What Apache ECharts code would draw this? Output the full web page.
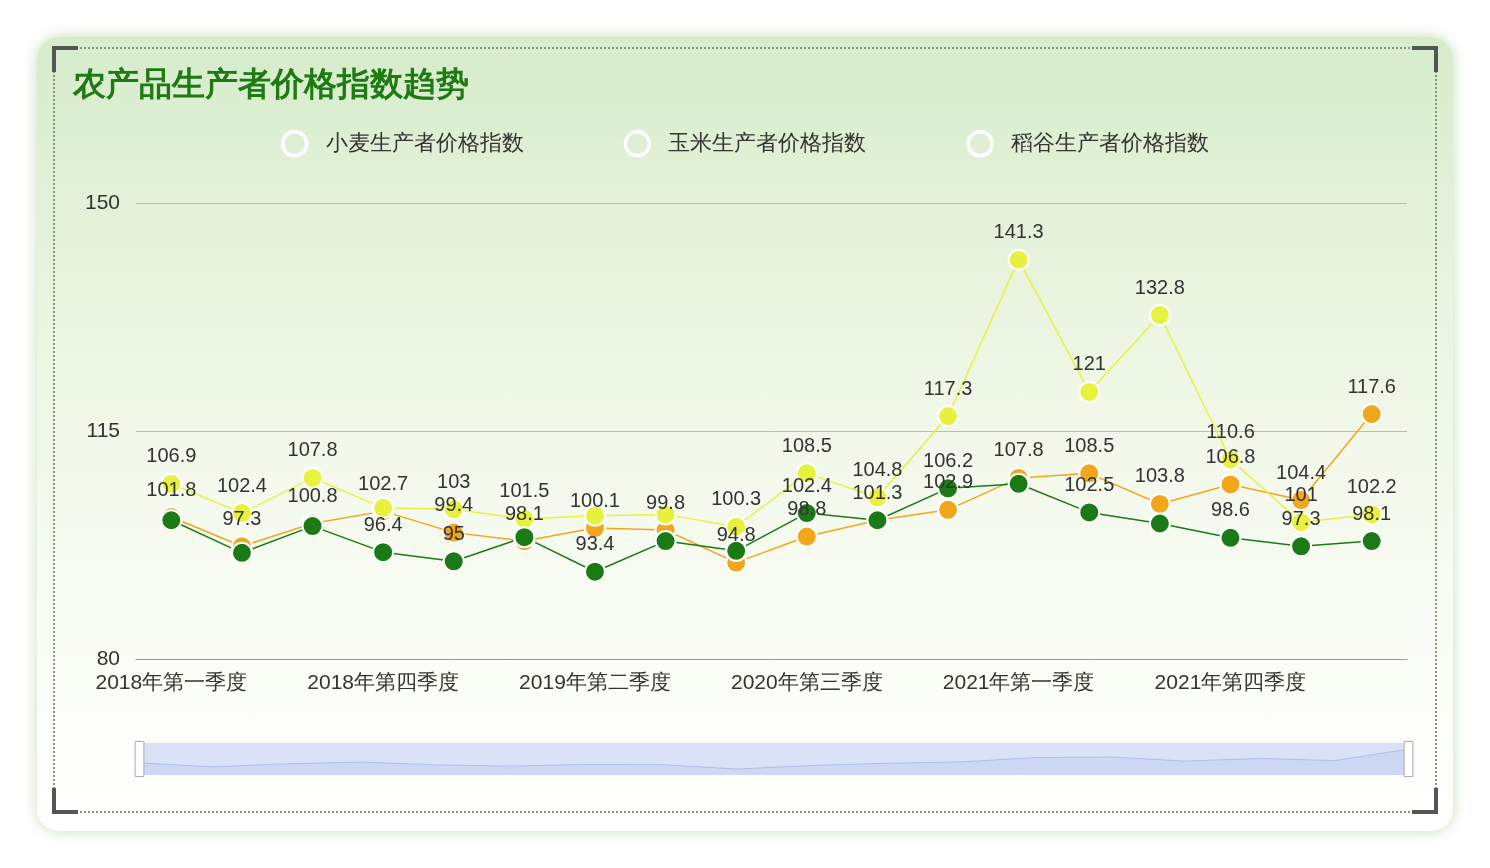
<!DOCTYPE html>
<html lang="zh">
<head>
<meta charset="UTF-8">
<title>农产品生产者价格指数趋势</title>
<script src="https://cdn.jsdelivr.net/npm/echarts@6/dist/echarts.min.js"></script>
<style>
    body{margin:0;background:#fff;font-family:"Noto Sans CJK SC",sans-serif;}
    .card{position:absolute;left:37px;top:37px;width:1416px;height:794px;border-radius:22px;
        background:linear-gradient(180deg,#d6eccb 0%,#eef6e4 40%,#fbfdf7 80%,#ffffff 100%);
        box-shadow:0 0 14px rgba(160,200,140,0.6);}
    .inner{position:absolute;left:16px;top:10px;right:16px;bottom:18px;border:2px dotted #7d9a75;}
    .c{position:absolute;width:22px;height:22px;border-color:#555;border-style:solid;border-width:0;}
    .tl{left:-3px;top:-3px;border-top-width:4px;border-left-width:4px;}
    .tr{right:-3px;top:-3px;border-top-width:4px;border-right-width:4px;}
    .bl{left:-3px;bottom:-3px;border-bottom-width:4px;border-left-width:4px;}
    .br{right:-3px;bottom:-3px;border-bottom-width:4px;border-right-width:4px;}
    #chart{position:absolute;left:0;top:0;width:1490px;height:868px;}
</style>
</head>
<body>
<div class="card"><div class="inner"><div class="c tl"></div><div class="c tr"></div><div class="c bl"></div><div class="c br"></div></div></div>
<div id="chart"></div>
<script>
    var quarters=['2018年第一季度','2018年第二季度','2018年第三季度','2018年第四季度','2019年第一季度','2019年上半年',
        '2019年第二季度','2019年第三季度','2020年第一季度','2020年第三季度','2020年第四季度','2020年全年',
        '2021年第一季度','2021年第二季度','2021年第三季度','2021年第四季度','2022年第一季度','2022年第二季度'];
    var wheat=[101.8,97.3,100.8,102.7,99.4,98.1,100.1,99.8,94.8,98.8,101.3,102.9,107.8,108.5,103.8,106.8,104.4,117.6];
    var corn=[106.9,102.4,107.8,103.2,103.0,101.5,102.0,102.2,100.3,108.5,104.8,117.3,141.3,121,132.8,110.6,101.0,102.2];
    var rice=[101.3,96.3,100.4,96.4,95,98.7,93.4,98.1,96.6,102.4,101.3,106.2,106.9,102.5,100.8,98.6,97.3,98.1];

    var chart=echarts.init(document.getElementById('chart'));
    function line(name,data,color){
        return {name:name,type:'line',data:data,symbol:'circle',symbolSize:20,
            lineStyle:{color:color,width:1.5},
            itemStyle:{color:color,borderColor:'#fff',borderWidth:2},
            labelLayout:{hideOverlap:true},
            label:{show:true,position:'top',color:'#333',fontSize:20,distance:6}};
    }
    chart.setOption({
        title:{text:'农产品生产者价格指数趋势',left:68,top:64,
            textStyle:{color:'#1e7a12',fontSize:33,fontWeight:'bold'}},
        legend:{top:125,left:'center',itemGap:100,itemWidth:24,itemHeight:24,icon:'circle',
            itemStyle:{color:'transparent',borderWidth:3.5},
            textStyle:{fontSize:22,color:'#333',padding:[0,0,0,14]}},
        grid:{left:136,right:83,top:203,bottom:209},
        xAxis:{type:'category',data:quarters,boundaryGap:true,
            axisLine:{lineStyle:{color:'#999'}},axisTick:{alignWithLabel:true,interval:2},
            axisLabel:{interval:2,fontSize:21,color:'#333',margin:14}},
        yAxis:{type:'value',min:80,max:150,interval:35,
            axisLabel:{fontSize:21,color:'#333',margin:16},
            splitLine:{lineStyle:{color:'#bbb'}}},
        dataZoom:[{type:'slider',start:0,end:100,left:136,right:83,top:743,height:32,
            showDetail:true,realtime:true,moveHandleSize:0,
            labelFormatter:function(v,s){return s;},
            fillerColor:'rgba(150,175,240,0.35)',borderColor:'transparent',backgroundColor:'transparent',
            handleIcon:'path://M0,0 L10,0 L10,40 L0,40 Z',handleSize:'110%',
            handleStyle:{color:'#fff',borderColor:'#aaa'},
            dataBackground:{lineStyle:{color:'#aab'},areaStyle:{opacity:0}},
            textStyle:{fontSize:22,color:'#888'}}],
        series:[line('小麦生产者价格指数',wheat,'#f2a61c'),
            line('玉米生产者价格指数',corn,'#e8f13e'),
            line('稻谷生产者价格指数',rice,'#1b7a16')]
    });
</script>
</body>
</html>
